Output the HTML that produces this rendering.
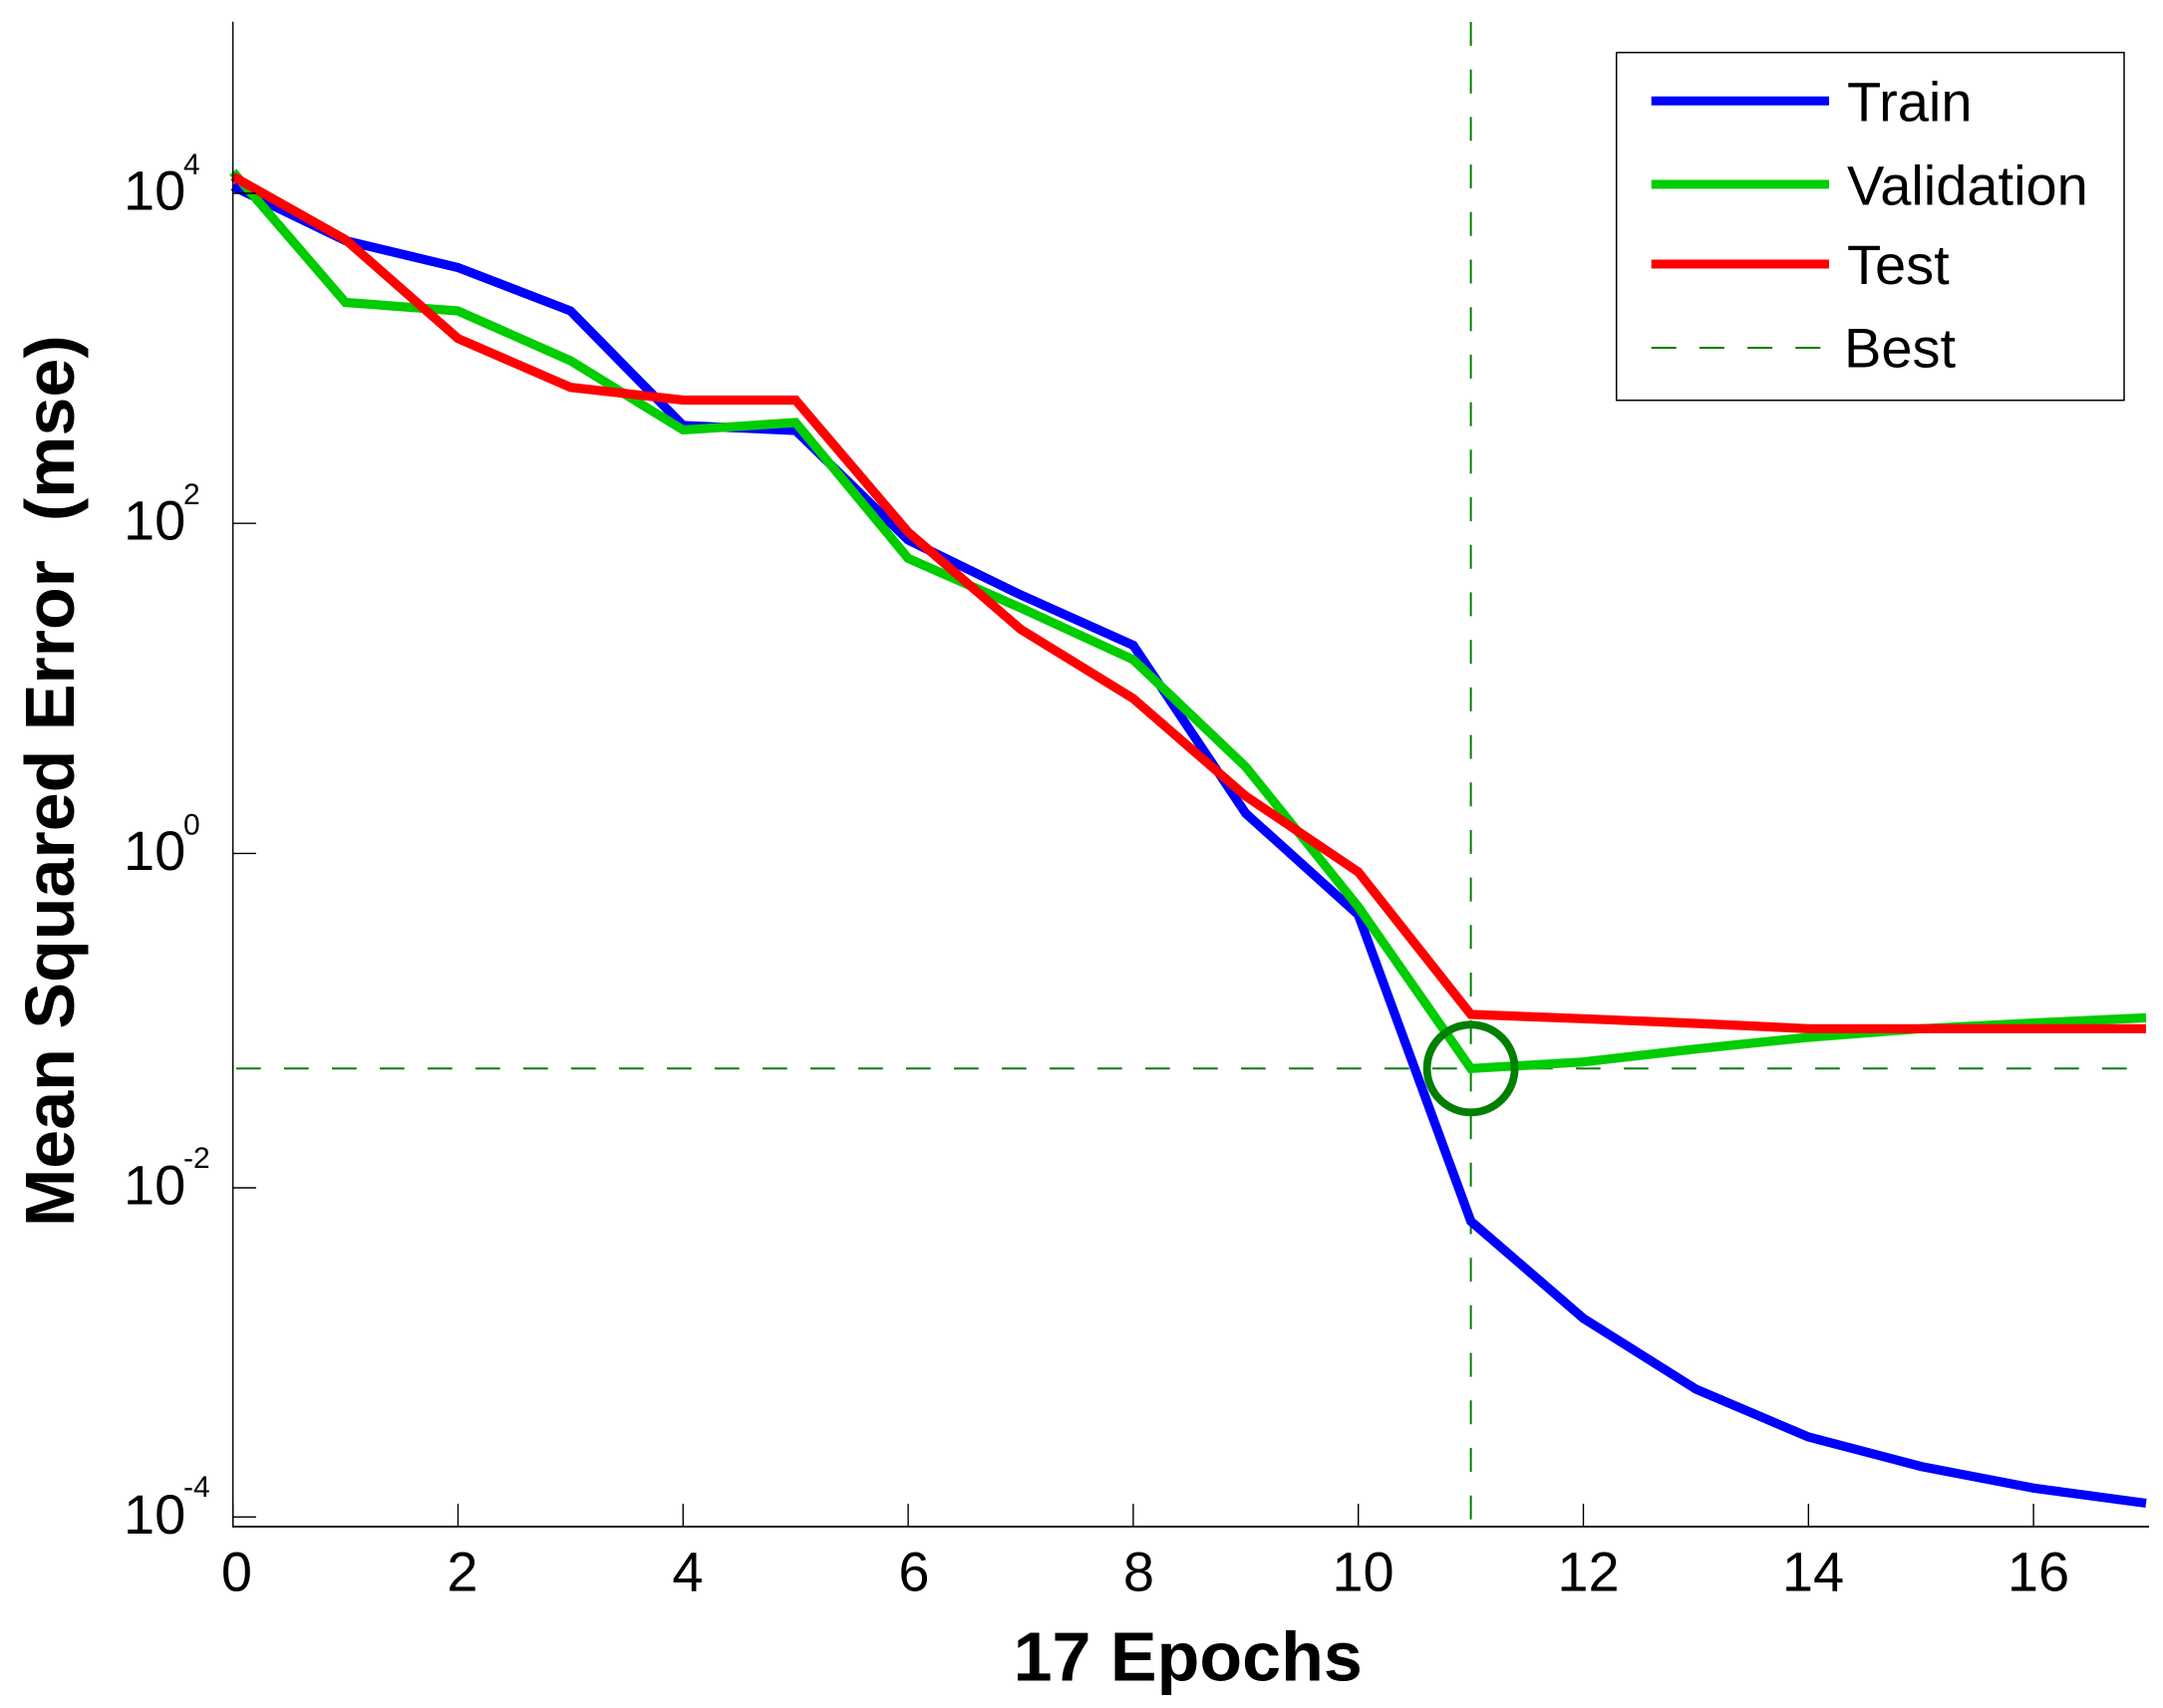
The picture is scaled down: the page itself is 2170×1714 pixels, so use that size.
<!DOCTYPE html>
<html>
<head>
<meta charset="utf-8">
<style>
  html, body { margin: 0; padding: 0; background: #ffffff; }
  svg { display: block; }
  text { font-family: "Liberation Sans", Arial, sans-serif; fill: #000; }
</style>
</head>
<body>
<svg width="2170" height="1714" viewBox="0 0 2170 1714" xmlns="http://www.w3.org/2000/svg">
  <rect x="0" y="0" width="2170" height="1714" fill="#ffffff"/>

  <!-- Best dashed lines -->
  <line x1="237" y1="1072.3" x2="2153" y2="1072.3" stroke="#007f00" stroke-width="2" stroke-dasharray="24.7 23.3"/>
  <line x1="1475.6" y1="22" x2="1475.6" y2="1532" stroke="#007f00" stroke-width="2" stroke-dasharray="24 23.7"/>

  <!-- Series -->
  <g fill="none" stroke-width="9.2" stroke-linejoin="miter" stroke-miterlimit="3" stroke-linecap="butt">
    <polyline stroke="#0000ff" points="233.7,187 346.6,241.5 459.5,268.5 572.4,312 685.3,427 798.2,432 911.1,542 1024,597 1136.9,647.5 1249.8,816.3 1362.7,918 1475.6,1225.5 1588.5,1323 1701.4,1394 1814.3,1442 1927.2,1471.6 2040.1,1493.3 2153,1508.5"/>
    <polyline stroke="#00cc00" points="233.7,172.5 346.6,303.5 459.5,312 572.4,362 685.3,431.5 798.2,424 911.1,560.3 1024,610 1136.9,662 1249.8,769.6 1362.7,910 1475.6,1072.3 1588.5,1065.7 1701.4,1052.7 1814.3,1041 1927.2,1032.3 2040.1,1026.6 2153,1021.4"/>
    <polyline stroke="#ff0000" points="233.7,177 346.6,240.5 459.5,339.7 572.4,388.7 685.3,401.5 798.2,401.5 911.1,534 1024,631.5 1136.9,701 1249.8,799 1362.7,875 1475.6,1018 1588.5,1022.3 1701.4,1027 1814.3,1032.3 1927.2,1032.3 2040.1,1032.3 2153,1032.3"/>
  </g>

  <!-- Best circle -->
  <circle cx="1475.6" cy="1072.3" r="44" fill="none" stroke="#007f00" stroke-width="7.8"/>

  <!-- Axes -->
  <line x1="233.7" y1="21.8" x2="233.7" y2="1532.8" stroke="#000" stroke-width="1.4"/>
  <line x1="233" y1="1532" x2="2156" y2="1532" stroke="#000" stroke-width="1.8"/>

  <!-- Y ticks -->
  <g stroke="#000" stroke-width="1.4">
    <line x1="233.7" y1="194" x2="257" y2="194"/>
    <line x1="233.7" y1="525.2" x2="257" y2="525.2"/>
    <line x1="233.7" y1="856.4" x2="257" y2="856.4"/>
    <line x1="233.7" y1="1192" x2="257" y2="1192"/>
    <line x1="233.7" y1="1522.3" x2="257" y2="1522.3"/>
  </g>

  <!-- X ticks -->
  <g stroke="#000" stroke-width="1.4">
    <line x1="233.7" y1="1532" x2="233.7" y2="1509"/>
    <line x1="459.5" y1="1532" x2="459.5" y2="1509"/>
    <line x1="685.3" y1="1532" x2="685.3" y2="1509"/>
    <line x1="911.1" y1="1532" x2="911.1" y2="1509"/>
    <line x1="1136.9" y1="1532" x2="1136.9" y2="1509"/>
    <line x1="1362.7" y1="1532" x2="1362.7" y2="1509"/>
    <line x1="1588.5" y1="1532" x2="1588.5" y2="1509"/>
    <line x1="1814.3" y1="1532" x2="1814.3" y2="1509"/>
    <line x1="2040.1" y1="1532" x2="2040.1" y2="1509"/>
  </g>

  <!-- Y tick labels -->
  <g font-size="56">
    <text x="124" y="210.5">10</text>
    <text x="124" y="541.7">10</text>
    <text x="124" y="872.9">10</text>
    <text x="124" y="1208.5">10</text>
    <text x="124" y="1538.8">10</text>
  </g>
  <g font-size="30">
    <text x="184" y="175">4</text>
    <text x="184" y="506.2">2</text>
    <text x="184" y="837.4">0</text>
    <text x="184" y="1172">-2</text>
    <text x="184" y="1502">-4</text>
  </g>

  <!-- X tick labels -->
  <g font-size="56" text-anchor="middle">
    <text x="237.5" y="1596.7">0</text>
    <text x="464" y="1596.7">2</text>
    <text x="690" y="1596.7">4</text>
    <text x="917" y="1596.7">6</text>
    <text x="1142.5" y="1596.7">8</text>
    <text x="1367.5" y="1596.7">10</text>
    <text x="1593.5" y="1596.7">12</text>
    <text x="1819" y="1596.7">14</text>
    <text x="2045" y="1596.7">16</text>
  </g>

  <!-- Axis labels -->
  <text x="1191.7" y="1686.7" font-size="70" font-weight="bold" text-anchor="middle">17 Epochs</text>
  <text transform="translate(74,783.7) rotate(-90)" font-size="70" font-weight="bold" text-anchor="middle">Mean Squared Error&#160; (mse)</text>

  <!-- Legend -->
  <rect x="1621.7" y="52.7" width="509.3" height="349" fill="#ffffff" stroke="#000" stroke-width="1.5"/>
  <line x1="1656.7" y1="101.2" x2="1835" y2="101.2" stroke="#0000ff" stroke-width="9"/>
  <line x1="1656.7" y1="185" x2="1835" y2="185" stroke="#00cc00" stroke-width="9"/>
  <line x1="1656.7" y1="265" x2="1835" y2="265" stroke="#ff0000" stroke-width="9"/>
  <line x1="1656.7" y1="349" x2="1835" y2="349" stroke="#007f00" stroke-width="2" stroke-dasharray="25 23.2"/>
  <g font-size="56">
    <text x="1853" y="121.7">Train</text>
    <text x="1853" y="205.7">Validation</text>
    <text x="1853" y="285">Test</text>
    <text x="1850" y="368.3">Best</text>
  </g>
</svg>
</body>
</html>
